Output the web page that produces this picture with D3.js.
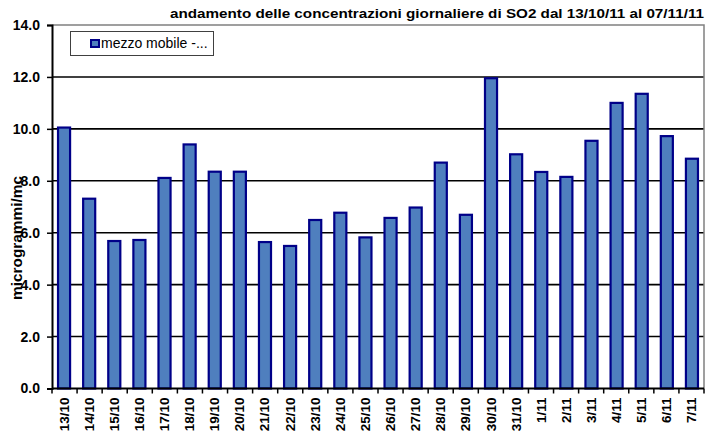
<!DOCTYPE html>
<html>
<head>
<meta charset="utf-8">
<script src="https://cdn.jsdelivr.net/npm/d3@7"></script>
<style>
  html, body { margin: 0; padding: 0; background: #fff; }
  svg { display: block; font-family: "Liberation Sans", Arial, sans-serif; }
</style>
</head>
<body>
<svg id="chart" width="705" height="435"></svg>
<script>
// data
const days = ['13/10', '14/10', '15/10', '16/10', '17/10', '18/10', '19/10', '20/10',
  '21/10', '22/10', '23/10', '24/10', '25/10', '26/10', '27/10', '28/10', '29/10',
  '30/10', '31/10', '1/11', '2/11', '3/11', '4/11', '5/11', '6/11', '7/11'];
const so2 = [10.05, 7.31, 5.68, 5.72, 8.11, 9.40, 8.35, 8.35,
  5.64, 5.49, 6.49, 6.77, 5.82, 6.57, 6.97, 8.70, 6.69,
  11.95, 9.02, 8.34, 8.15, 9.54, 11.0, 11.35, 9.72, 8.85];
const yTicks = [0, 2, 4, 6, 8, 10, 12, 14];
const seriesName = 'mezzo mobile -...';
const title = 'andamento delle concentrazioni giornaliere di SO2 dal 13/10/11 al 07/11/11';
const yTitle = 'microgrammi/mc';

const svg = d3.select('#chart');
const plotL = 52, plotR = 704, plotT = 25, plotB = 388.5;

const x = d3.scaleBand().domain(days).range([plotL, plotR]).paddingInner(0.52).paddingOuter(0.24);
const y = d3.scaleLinear().domain([0, 14]).range([plotB, plotT]);

// grid lines
svg.append('g')
  .selectAll('line')
  .data(yTicks.filter(t => t > 0 && t < 14))
  .join('line')
  .attr('x1', plotL).attr('x2', plotR)
  .attr('y1', d => y(d)).attr('y2', d => y(d))
  .attr('stroke', '#000').attr('stroke-width', 1.6);

// plot frame (top and right, gray)
svg.append('path')
  .attr('d', `M${plotL},${y(14)}H${plotR}V${plotB}`)
  .attr('fill', 'none').attr('stroke', '#808080').attr('stroke-width', 1.5);

// bars
svg.append('g')
  .selectAll('rect')
  .data(so2)
  .join('rect')
  .attr('x', (d, i) => x(days[i]))
  .attr('y', d => y(d))
  .attr('width', x.bandwidth())
  .attr('height', d => plotB - y(d))
  .attr('fill', '#4f7fbe')
  .attr('stroke', '#000088')
  .attr('stroke-width', 2.2);

// y axis
const yAxis = svg.append('g')
  .attr('transform', `translate(${plotL},0)`)
  .call(d3.axisLeft(y).tickValues(yTicks).tickFormat(d3.format('.1f')).tickSize(5).tickPadding(7));
yAxis.select('.domain').attr('stroke', '#000').attr('stroke-width', 2);
yAxis.selectAll('.tick line').attr('stroke', '#000').attr('stroke-width', 1.5);
yAxis.selectAll('.tick text')
  .attr('font-size', 14).attr('font-weight', 'bold').attr('fill', '#000')
  .attr('font-family', '"Liberation Sans", Arial, sans-serif');

// x axis: ticks at category boundaries
const xg = svg.append('g');
xg.append('line')
  .attr('x1', plotL).attr('x2', plotR).attr('y1', plotB).attr('y2', plotB)
  .attr('stroke', '#000').attr('stroke-width', 2);
xg.selectAll('.xtick')
  .data(d3.range(days.length + 1))
  .join('line')
  .attr('class', 'xtick')
  .attr('x1', i => plotL + i * (plotR - plotL) / days.length)
  .attr('x2', i => plotL + i * (plotR - plotL) / days.length)
  .attr('y1', plotB).attr('y2', plotB + 5)
  .attr('stroke', '#000').attr('stroke-width', 1.5);
xg.selectAll('text')
  .data(days)
  .join('text')
  .attr('transform', d => `translate(${x(d) + x.bandwidth() / 2 + 4.5},${plotB + 9}) rotate(-90)`)
  .attr('text-anchor', 'end')
  .attr('font-size', 13.5).attr('font-weight', 'bold')
  .text(d => d);

// titles
svg.append('text')
  .attr('x', 704).attr('y', 18)
  .attr('text-anchor', 'end')
  .attr('font-size', 13.5).attr('font-weight', 'bold')
  .attr('textLength', 534).attr('lengthAdjust', 'spacingAndGlyphs')
  .text(title);

svg.append('text')
  .attr('transform', `translate(22,238) rotate(-90)`)
  .attr('text-anchor', 'middle')
  .attr('font-size', 14).attr('font-weight', 'bold')
  .attr('textLength', 124).attr('lengthAdjust', 'spacingAndGlyphs')
  .text(yTitle);

// legend
const lg = svg.append('g');
lg.append('rect')
  .attr('x', 70.5).attr('y', 31.5).attr('width', 143).attr('height', 24)
  .attr('fill', '#fff').attr('stroke', '#404040').attr('stroke-width', 1);
lg.append('rect')
  .attr('x', 91).attr('y', 40).attr('width', 8).attr('height', 7)
  .attr('fill', '#4f7fbe').attr('stroke', '#000088').attr('stroke-width', 2);
lg.append('text')
  .attr('x', 101).attr('y', 48)
  .attr('font-size', 14)
  .text(seriesName);
</script>
</body>
</html>
